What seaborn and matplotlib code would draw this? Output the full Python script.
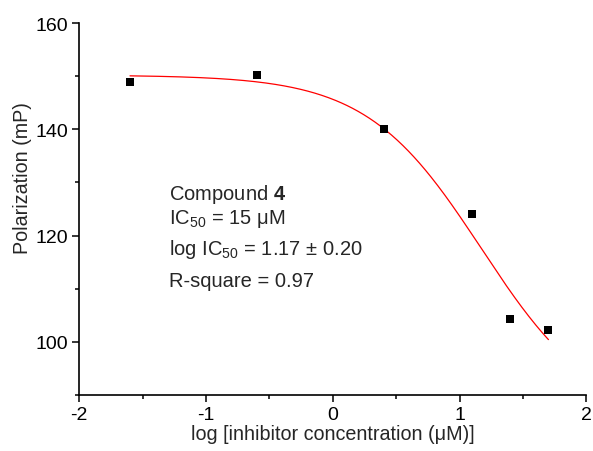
import numpy as np
import pandas as pd
import matplotlib
matplotlib.use("Agg")
import matplotlib.pyplot as plt
from matplotlib.ticker import MultipleLocator
import seaborn as sns

# Measured fluorescence polarization vs. log inhibitor concentration
log_conc = [-1.6, -0.6, 0.4, 1.1, 1.4, 1.7]
polarization = [148.9, 150.3, 140.0, 124.0, 104.3, 102.3]

# Four-parameter logistic fit
fit_top = 150.2
fit_bottom = 85.0
log_ic50 = 1.17
hill = 0.96

x_ticks = [-2, -1, 0, 1, 2]
y_ticks = [100, 120, 140, 160]

sns.set_style("ticks")
plt.rcParams["font.family"] = ["Liberation Sans", "DejaVu Sans"]
plt.rcParams["mathtext.fontset"] = "custom"
plt.rcParams["mathtext.rm"] = "Liberation Sans"
plt.rcParams["mathtext.bf"] = "Liberation Sans:bold"
plt.rcParams["mathtext.default"] = "regular"

points = pd.DataFrame({"log_conc": log_conc, "polarization": polarization})
xs = np.linspace(min(log_conc), max(log_conc), 300)
curve = pd.DataFrame({
    "log_conc": xs,
    "polarization": fit_bottom + (fit_top - fit_bottom) / (1 + 10 ** (hill * (xs - log_ic50))),
})

fig = plt.figure(figsize=(5.93, 4.52), dpi=100)
ax = fig.add_axes([0.1337, 0.1239, 0.8553, 0.823])

sns.lineplot(data=curve, x="log_conc", y="polarization", ax=ax,
             color="#ff0000", linewidth=0.9)
sns.scatterplot(data=points, x="log_conc", y="polarization", ax=ax,
                marker="s", s=36, color="black", edgecolor="black", linewidth=0, zorder=3)

ax.set_xlim(-2, 2)
ax.set_ylim(90, 160)
ax.set_xticks(x_ticks)
ax.set_yticks(y_ticks)
ax.set_xticklabels(["-2", "-1", "0", "1", "2"])
ax.xaxis.set_minor_locator(MultipleLocator(0.5))
ax.yaxis.set_minor_locator(MultipleLocator(10))
ax.tick_params(axis="both", which="major", direction="out", length=5, width=1.1,
               labelsize=14, color="black", labelcolor="black", pad=3)
ax.tick_params(axis="both", which="minor", direction="out", length=3, width=1.1,
               color="black")
for side in ("left", "bottom"):
    ax.spines[side].set_linewidth(1.2)
    ax.spines[side].set_color("black")
sns.despine(ax=ax)

ax.set_xlabel("log [inhibitor concentration (μM)]", fontsize=14.2, labelpad=1)
ax.set_ylabel("Polarization (mP)", fontsize=14.2, labelpad=4)
ax.yaxis.set_label_coords(-0.093, 0.586)

tx = -1.29
ax.text(tx, 126.8, r"Compound $\mathbf{4}$", fontsize=14.5, va="baseline")
ax.text(tx, 122.3, r"IC$_{50}$ = 15 μM", fontsize=14.5, va="baseline")
ax.text(tx, 116.5, r"log IC$_{50}$ = 1.17 ± 0.20", fontsize=14.5, va="baseline")
ax.text(tx, 110.6, "R-square = 0.97", fontsize=14.5, va="baseline")

fig.savefig("out.png", dpi=100)
